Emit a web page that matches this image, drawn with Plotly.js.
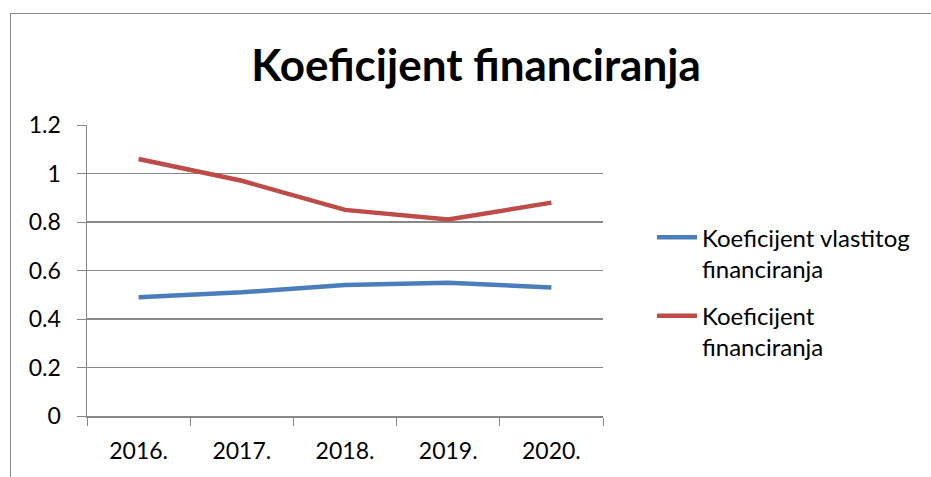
<!DOCTYPE html>
<html><head><meta charset="utf-8">
<script src="https://cdn.plot.ly/plotly-3.0.1.min.js"></script>
<style>
html,body{margin:0;padding:0;width:931px;height:477px;overflow:hidden;background:#fff;}
#frame{position:absolute;left:10px;top:13px;width:1000px;height:600px;border:1.5px solid #878787;box-sizing:border-box;}
#chart{position:absolute;left:0;top:0;width:931px;height:477px;}
</style></head>
<body>
<div id="frame"></div>
<div id="chart"></div>
<script>
const years = ["2016.", "2017.", "2018.", "2019.", "2020."];
const vlastitog = [0.49, 0.51, 0.54, 0.55, 0.53];
const financiranja = [1.06, 0.97, 0.85, 0.81, 0.88];
const seriesNames = ["Koeficijent vlastitog<br>financiranja", "Koeficijent<br>financiranja"];
const yTicks = [0, 0.2, 0.4, 0.6, 0.8, 1, 1.2];
const yTickText = ["0", "0.2", "0.4", "0.6", "0.8", "1", "1.2"];

const font = "Lato, 'Noto Sans', sans-serif";
const traces = [
  {x: years, y: vlastitog, name: seriesNames[0], type: "scatter", mode: "lines", legendgroup: "a",
   line: {color: "#4a7ebb", width: 4.5}},
  {x: years, y: financiranja, name: seriesNames[1], type: "scatter", mode: "lines", legendgroup: "b",
   line: {color: "#be4b48", width: 4.5}}
];
const layout = {
  width: 931, height: 477,
  paper_bgcolor: "rgba(0,0,0,0)", plot_bgcolor: "rgba(0,0,0,0)",
  margin: {l: 87, r: 328, t: 125, b: 61},
  title: {text: "<b>Koeficijent financiranja</b>", font: {family: font, size: 44, color: "#000"},
          x: 476 / 931, xref: "container", xanchor: "center", y: 1 - 66 / 477, yref: "container", yanchor: "middle"},
  xaxis: {type: "category", tickson: "boundaries", ticks: "outside", ticklen: 8, tickcolor: "#878787",
          showline: true, linecolor: "#878787", linewidth: 1.5, showgrid: false,
          tickfont: {family: font, size: 23, color: "#000"}, range: [-0.5, 4.5], ticklabelstandoff: 14},
  yaxis: {range: [0, 1.2], tickvals: yTicks, ticktext: yTickText, ticks: "outside", ticklen: 9,
          tickcolor: "#878787", showline: true, linecolor: "#878787", linewidth: 1.5,
          showgrid: true, gridcolor: "#878787", gridwidth: 1.5, zeroline: false,
          tickfont: {family: font, size: 23, color: "#000"}, ticklabelstandoff: 11},
  showlegend: true,
  legend: {x: 1.095, xanchor: "left", y: 0.69, yanchor: "top", valign: "top", traceorder: "grouped",
           font: {family: font, size: 24, color: "#000"}, tracegroupgap: 13, itemwidth: 40},
  font: {family: font}
};
Plotly.newPlot("chart", traces, layout, {displayModeBar: false, staticPlot: true});
</script>
</body></html>
